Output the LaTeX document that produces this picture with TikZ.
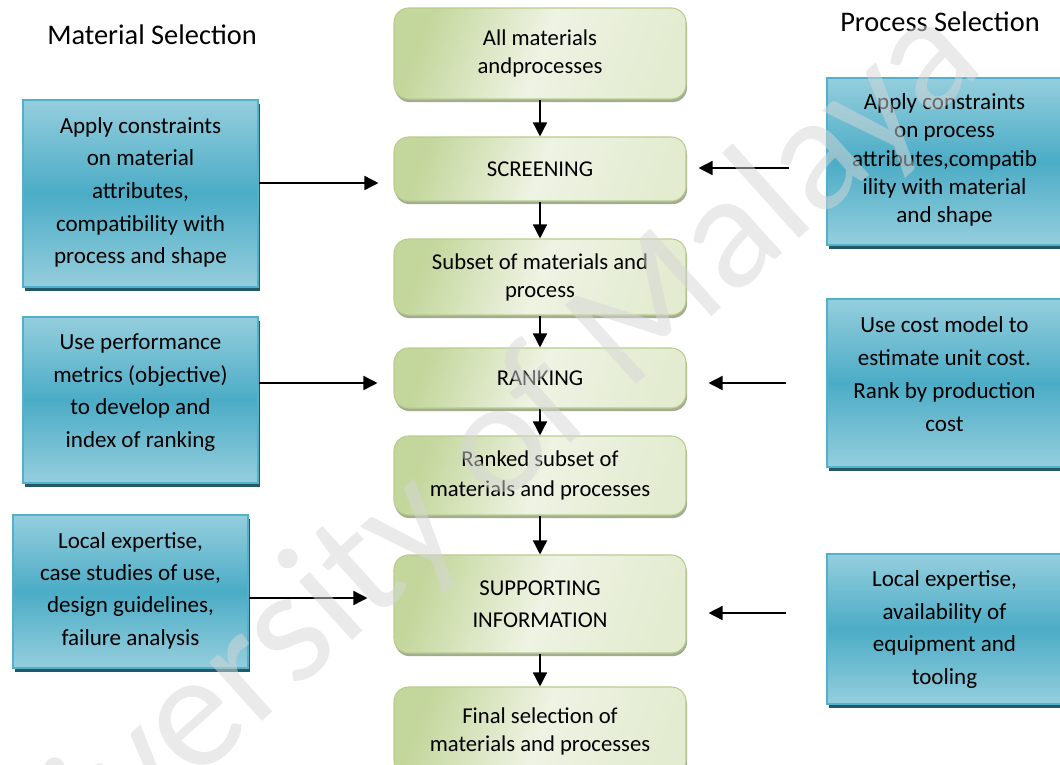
\documentclass[tikz,border=0pt]{standalone}
\usepackage{fontspec}
\setmainfont{Carlito}
\usetikzlibrary{arrows.meta,shadows}

\definecolor{blueL}{HTML}{95CEDD}
\definecolor{blueD}{HTML}{4BACC6}
\definecolor{blueEdge}{HTML}{52B1CA}
\definecolor{blueShadow}{HTML}{215968}
\definecolor{greenD}{HTML}{C3D69B}
\definecolor{greenL}{HTML}{EEF3E3}
\definecolor{greenEdge}{HTML}{B8CD8C}
\definecolor{greenShadow}{HTML}{A3AC91}
\definecolor{markgray}{HTML}{D6D6D6}

\tikzset{
  % central process stages
  stagebox/.style={rounded corners=11pt, draw=greenEdge, line width=0.8pt,
    left color=greenD, right color=greenL!75!greenD, middle color=greenL,
    shading angle=70,
    drop shadow={shadow xshift=0.8pt, shadow yshift=-2.4pt, fill=greenShadow, opacity=1},
    minimum width=219pt, inner sep=0pt, align=center,
    font=\fontsize{17}{21}\selectfont},
  % side input boxes
  inputbox/.style={draw=blueEdge, line width=1.2pt,
    top color=blueL, bottom color=blueL, middle color=blueD,
    drop shadow={shadow xshift=1.6pt, shadow yshift=-3pt, fill=blueShadow, opacity=1},
    minimum width=176.25pt, inner sep=0pt},
  note/.style={align=center, font=\fontsize{17.3}{24.5}\selectfont},
  heading/.style={font=\fontsize{21.3}{25}\selectfont},
  flow/.style={-{Triangle[width=10.5pt,length=10.5pt]}, line width=1.1pt},
}

\begin{document}
\begin{tikzpicture}[x=0.75pt, y=-0.75pt]
\useasboundingbox (0,0) rectangle (1060,764);
\clip (0,0) rectangle (1060,764);

% column headings
\node[heading] (hm) at (152,35) {Material Selection};
\node[heading] (hp) at (940,22) {Process Selection};

% central stages
\node[stagebox, minimum height=68.25pt] (g1) at (540,53.5) {All materials\\andprocesses};
\node[stagebox, minimum height=48pt] (g2) at (540,169) {SCREENING};
\node[stagebox, minimum height=57pt] (g3) at (540,277) {Subset of materials and\\process};
\node[stagebox, minimum height=45pt] (g4) at (540,378) {RANKING};
\node[stagebox, minimum height=59.25pt, font=\fontsize{17}{22.5}\selectfont] (g5) at (540,475.5) {Ranked subset of\\materials and processes};
\node[stagebox, minimum height=73.5pt, font=\fontsize{17}{24}\selectfont] (g6) at (540,604) {SUPPORTING\\INFORMATION};
\node[stagebox, minimum height=66pt] (g7) at (540,731) {Final selection of\\materials and processes};

% material-side inputs
\node[inputbox, minimum height=140.25pt] (L1) at (140.5,193.5) {};
\node[note] (L1t) at (140.5,192.5) {Apply constraints\\on material\\attributes,\\compatibility with\\process and shape};
\node[inputbox, minimum height=124.5pt] (L2) at (140.5,400) {};
\node[note] (L2t) at (140.5,392.5) {Use performance\\metrics (objective)\\to develop and\\index of ranking};
\node[inputbox, minimum height=114.75pt] (L3) at (130.5,591.5) {};
\node[note, font=\fontsize{17.3}{24.2}\selectfont] (L3t) at (130.5,590.5) {Local expertise,\\case studies of use,\\design guidelines,\\failure analysis};

% process-side inputs
\node[inputbox, minimum height=125.25pt] (R1) at (944.5,161.5) {};
\node[note, font=\fontsize{17.3}{21.2}\selectfont] (R1t) at (944.5,160) {Apply constraints\\on process\\attributes,compatib\\ility with material\\and shape};
\node[inputbox, minimum height=126pt] (R2) at (944.5,383) {};
\node[note, font=\fontsize{17.3}{24.7}\selectfont] (R2t) at (944.5,374) {Use cost model to\\estimate unit cost.\\Rank by production\\cost};
\node[inputbox, minimum height=112.5pt] (R3) at (944.5,629) {};
\node[note, font=\fontsize{17.3}{24.3}\selectfont] (R3t) at (944.5,629.5) {Local expertise,\\availability of\\equipment and\\tooling};

% main flow
\draw[flow] (g1.south) -- (g2.north);
\draw[flow] (g2.south) -- (g3.north);
\draw[flow] (g3.south) -- (g4.north);
\draw[flow] (g4.south) -- (g5.north);
\draw[flow] (g5.south) -- (g6.north);
\draw[flow] (g6.south) -- (g7.north);

% side arrows
\coordinate (a1) at (0,183);
\coordinate (a2) at (0,383);
\coordinate (a3) at (0,598);
\coordinate (b1) at (0,168);
\coordinate (b2) at (0,383);
\coordinate (b3) at (0,613);
\draw[flow, shorten >=11.25pt] (L1.east |- a1) -- (g2.west |- a1);
\draw[flow, shorten >=12pt] (L2.east |- a2) -- (g4.west |- a2);
\draw[flow, shorten >=19.5pt] (L3.east |- a3) -- (g6.west |- a3);
\draw[flow, shorten <=27.75pt, shorten >=9pt] (R1.west |- b1) -- (g2.east |- b1);
\draw[flow, shorten <=30pt, shorten >=16.5pt] (R2.west |- b2) -- (g4.east |- b2);
\draw[flow, shorten <=30pt, shorten >=16.5pt] (R3.west |- b3) -- (g6.east |- b3);

% watermark
\node[rotate=42, text=markgray, opacity=0.5, font=\fontsize{124}{124}\selectfont] (wm) at (448,495) {University of Malaya};
\end{tikzpicture}
\end{document}
